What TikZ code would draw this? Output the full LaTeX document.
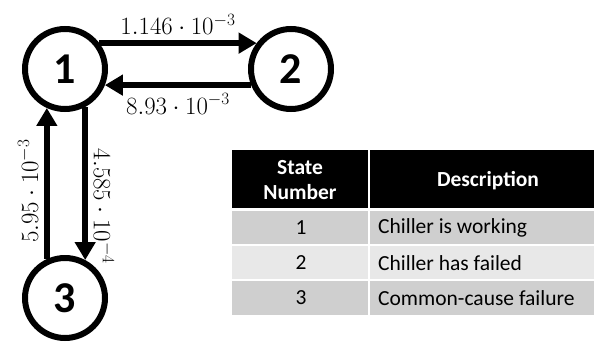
\documentclass[tikz,border=0pt]{standalone}
\usepackage{fontspec}
\setsansfont{Carlito}
\usetikzlibrary{arrows.meta}
\definecolor{rowdark}{HTML}{CFCFCF}
\definecolor{rowlight}{HTML}{E8E8E8}
\begin{document}
\begin{tikzpicture}[x=1pt,y=-1pt,
  state/.style={circle,draw,line width=6pt,minimum size=80pt,inner sep=0pt,
    font=\sffamily\bfseries\fontsize{44}{44}\selectfont},
  flow/.style={line width=5.5pt,-{Triangle[length=18pt,width=20pt]}},
  rate/.style={font=\fontsize{24}{24}\selectfont,inner sep=6pt},
  cell/.style={font=\sffamily\fontsize{21.5}{25}\selectfont,inner sep=0pt},
  head/.style={cell,text=white,font=\sffamily\bfseries\fontsize{21.5}{25}\selectfont,align=center}]
\useasboundingbox (0,0) rectangle (596,343);
% states
\node[state] (s1) at (65,69) {1};
\node[state] (s2) at (291,69) {2};
\node[state] (s3) at (65,298) {3};
% transitions
\draw[flow] (s1.37) -- (s2.143) node[midway,above,rate] (r12) {$1.146\cdot10^{-3}$};
\draw[flow] (s2.-158) -- (s1.-22) node[midway,below,rate] (r21) {$8.93\cdot10^{-3}$};
\draw[flow] (s1.-62) -- (s3.62) node[pos=0.65,sloped,above,rate] (r13) {$4.585\cdot10^{-4}$};
\draw[flow] (s3.115) -- (s1.245) node[pos=0.45,sloped,above,rate] (r31) {$5.95\cdot10^{-3}$};
% table
\fill[black] (232,150) rectangle (594,208);
\fill[rowdark] (232,211) rectangle (594,245);
\fill[rowlight] (232,245) rectangle (594,280);
\fill[rowdark] (232,280) rectangle (594,315);
\draw[white,line width=2pt] (232,245) -- (594,245) (232,280) -- (594,280);
\draw[white,line width=1.5pt] (369,150) -- (369,315);
\node[head] (hnum) at (300,180) {State\\Number};
\node[head] (hdesc) at (488,181) {Description};
\node[cell] (n1) at (301,228) {1};
\node[cell] (n2) at (301,263) {2};
\node[cell] (n3) at (301,298) {3};
\node[cell,anchor=west] (d1) at (378,228) {Chiller is working};
\node[cell,anchor=west] (d2) at (378,263) {Chiller has failed};
\node[cell,anchor=west] (d3) at (378,298) {Common-cause failure};
\end{tikzpicture}
\end{document}
